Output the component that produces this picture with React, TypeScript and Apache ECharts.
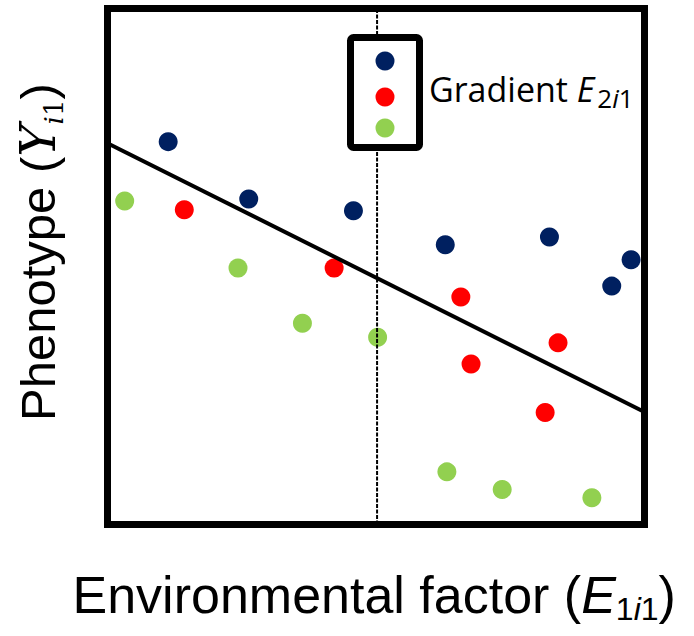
import React, { useEffect, useRef } from "react";
import * as echarts from "echarts";

// Data (x: environmental factor 0-100, y: phenotype 0-100)
const navyX = [11.3, 26.3, 45.8, 62.9, 82.3, 93.9, 97.5];
const navyY = [74.2, 63.1, 60.8, 54.2, 55.7, 46.2, 51.3];
const redX = [14.3, 42.2, 65.8, 67.7, 81.5, 83.9];
const redY = [61.0, 49.7, 44.1, 31.1, 21.7, 35.2];
const greenX = [3.2, 24.3, 36.3, 50.3, 63.2, 73.5, 90.2];
const greenY = [62.7, 49.7, 39.0, 36.3, 10.2, 6.8, 5.2];
const fitX = [0, 100];
const fitY = [73.9, 21.8];
const dividerX = 50.2;

const NAVY = "#002060";
const RED = "#FF0000";
const GREEN = "#92D050";

const zip = (xs: number[], ys: number[]) => xs.map((x, i) => [x, ys[i]]);

export default function App() {
  const ref = useRef<HTMLDivElement>(null);
  useEffect(() => {
    if (!ref.current) return;
    const chart = echarts.init(ref.current, undefined, { renderer: "svg" });
    const sans = "'Liberation Sans', Arial, sans-serif";
    const leg = "'Open Sans'";
    chart.setOption({
      animation: false,
      grid: {
        left: 107.5,
        top: 8.5,
        width: 537,
        height: 516,
        show: true,
        borderWidth: 7,
        borderColor: "#000",
        backgroundColor: "transparent",
      },
      xAxis: { type: "value", min: 0, max: 100, show: false },
      yAxis: { type: "value", min: 0, max: 100, show: false },
      series: [
        {
          type: "scatter",
          data: zip(navyX, navyY),
          symbolSize: 19,
          itemStyle: { color: NAVY, opacity: 1 },
          z: 2,
        },
        {
          type: "scatter",
          data: zip(redX, redY),
          symbolSize: 19,
          itemStyle: { color: RED, opacity: 1 },
          z: 2,
        },
        {
          type: "scatter",
          data: zip(greenX, greenY),
          symbolSize: 19,
          itemStyle: { color: GREEN, opacity: 1 },
          z: 2,
        },
        {
          type: "line",
          data: zip(fitX, fitY),
          symbol: "none",
          lineStyle: { color: "#000", width: 4 },
          z: 3,
        },
        {
          type: "line",
          data: [
            [dividerX, 0],
            [dividerX, 100],
          ],
          symbol: "none",
          lineStyle: { color: "#000", width: 2, type: [4, 1.5] },
          z: 4,
        },
      ],
      graphic: [
        {
          type: "rect",
          z: 100,
          shape: { x: 350.5, y: 37.5, width: 69, height: 110, r: 3 },
          style: { fill: "#fff", stroke: "#000", lineWidth: 7 },
        },
        { type: "circle", z: 101, shape: { cx: 385, cy: 61, r: 9.5 }, style: { fill: NAVY } },
        { type: "circle", z: 101, shape: { cx: 385, cy: 97, r: 9.5 }, style: { fill: RED } },
        { type: "circle", z: 101, shape: { cx: 385, cy: 128, r: 9.5 }, style: { fill: GREEN } },
        {
          type: "text",
          x: 429,
          y: 89,
          z: 100,
          style: {
            text: "{g|Gradient }{e|E}{s|2}{si|i}{s|1}",
            align: "left",
            verticalAlign: "middle",
            rich: {
              g: { fontSize: 34, fontFamily: leg, lineHeight: 44, fill: "#000" },
              e: { fontSize: 34, fontFamily: leg, fontStyle: "italic", lineHeight: 44, fill: "#000", padding: [0, 3, 0, 0] },
              s: { fontSize: 26, fontFamily: leg, lineHeight: 18, verticalAlign: "bottom", fill: "#000" },
              si: { fontSize: 26, fontFamily: leg, fontStyle: "italic", lineHeight: 18, verticalAlign: "bottom", fill: "#000" },
            },
          },
        },
        {
          type: "text",
          x: 72.5,
          y: 595,
          z: 100,
          style: {
            text: "{m|Environmental factor (}{e|E}{s|1}{si|i}{s|1}{m|)}",
            align: "left",
            verticalAlign: "middle",
            rich: {
              m: { fontSize: 52, fontFamily: sans, lineHeight: 60, fill: "#000" },
              e: { fontSize: 52, fontFamily: sans, fontStyle: "italic", lineHeight: 60, fill: "#000" },
              s: { fontSize: 32, fontFamily: sans, lineHeight: 22, verticalAlign: "bottom", fill: "#000" },
              si: { fontSize: 32, fontFamily: sans, fontStyle: "italic", lineHeight: 22, verticalAlign: "bottom", fill: "#000" },
            },
          },
        },
        {
          type: "text",
          x: 38,
          y: 421,
          rotation: Math.PI / 2,
          z: 100,
          style: {
            text: "{m|Phenotype (}{y|Y}{ys|i}{s|1}{m|)}",
            align: "left",
            verticalAlign: "middle",
            rich: {
              m: { fontSize: 49, fontFamily: sans, lineHeight: 57, fill: "#000" },
              y: { fontSize: 49, fontFamily: "'DejaVu Serif'", fontStyle: "italic", lineHeight: 57, fill: "#000" },
              ys: { fontSize: 26, fontFamily: "'DejaVu Serif'", fontStyle: "italic", lineHeight: 31, verticalAlign: "bottom", fill: "#000" },
              s: { fontSize: 26, fontFamily: "'DejaVu Serif'", lineHeight: 31, verticalAlign: "bottom", fill: "#000" },
            },
          },
        },
      ],
    });
    return () => chart.dispose();
  }, []);
  return (
    <div
      ref={ref}
      style={{ position: "absolute", left: 0, top: 0, width: 694, height: 636 }}
    />
  );
}
